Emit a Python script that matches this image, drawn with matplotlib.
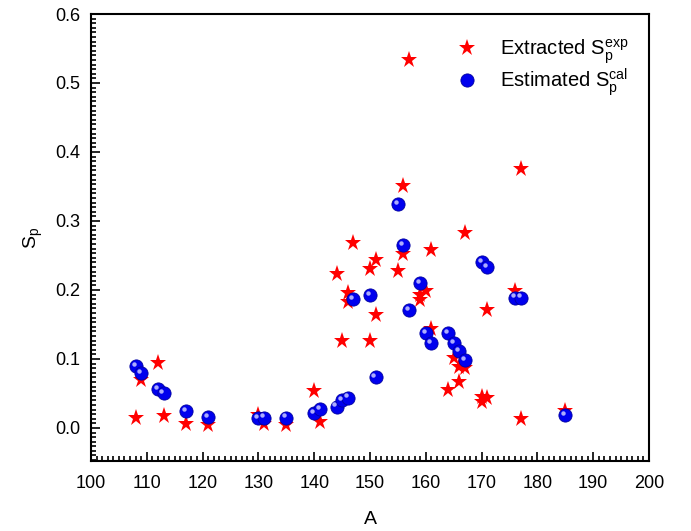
import matplotlib
matplotlib.use('Agg')
import matplotlib.pyplot as plt
from matplotlib import transforms
from matplotlib.ticker import MultipleLocator

plt.rcParams['font.family'] = ['Liberation Sans', 'DejaVu Sans']
plt.rcParams['mathtext.fontset'] = 'custom'
plt.rcParams['mathtext.rm'] = 'Liberation Sans'
plt.rcParams['mathtext.it'] = 'Liberation Sans'

# extracted S_p (stars)
a_exp = [108, 109, 112, 113, 117, 121, 130, 131, 135, 140, 141, 144, 145, 146, 146,
         147, 150, 150, 151, 151, 155, 156, 156, 157, 159, 159, 160, 161, 161, 164,
         165, 166, 166, 167, 167, 170, 170, 171, 171, 176, 177, 177, 185]
sp_exp = [0.014, 0.070, 0.094, 0.017, 0.006, 0.004, 0.019, 0.006, 0.004, 0.053, 0.008,
          0.223, 0.126, 0.196, 0.182, 0.268, 0.230, 0.126, 0.244, 0.164, 0.227, 0.350,
          0.252, 0.534, 0.185, 0.192, 0.199, 0.258, 0.143, 0.055, 0.101, 0.089, 0.066,
          0.087, 0.283, 0.045, 0.037, 0.043, 0.171, 0.199, 0.375, 0.013, 0.024]

# estimated S_p (balls)
a_cal = [108, 109, 112, 113, 117, 121, 130, 131, 135, 140, 141, 144, 145, 146, 147,
         150, 151, 155, 156, 157, 159, 160, 161, 164, 165, 166, 167, 170, 171, 176,
         177, 185]
sp_cal = [0.090, 0.079, 0.056, 0.050, 0.024, 0.016, 0.014, 0.015, 0.015, 0.022, 0.028,
          0.031, 0.040, 0.044, 0.187, 0.193, 0.074, 0.324, 0.265, 0.171, 0.210, 0.137,
          0.123, 0.137, 0.123, 0.111, 0.099, 0.241, 0.233, 0.189, 0.189, 0.018]

fig = plt.figure(figsize=(6.91, 5.31), dpi=100)
ax = fig.add_axes([0.1317, 0.1318, 0.8075, 0.8418])

ax.plot(a_exp, sp_exp, linestyle='none', marker='*', markersize=12.5,
        color='red', markeredgewidth=0, label=r'Extracted $\mathrm{S_p^{exp}}$')
ax.plot(a_cal, sp_cal, linestyle='none', marker='o', markersize=9.5,
        color='#0000ee', markeredgecolor='#0000a0', markeredgewidth=0.6,
        label=r'Estimated $\mathrm{S_p^{cal}}$')
# highlight on the balls
hl = transforms.offset_copy(ax.transData, fig=fig, x=-1.5, y=1.5, units='points')
ax.plot(a_cal, sp_cal, linestyle='none', marker='o', markersize=3.2,
        color='#c0c0ff', markeredgewidth=0, alpha=0.9, transform=hl)

ax.set_xlim(100, 200)
ax.set_ylim(-0.048, 0.6)
ax.xaxis.set_major_locator(MultipleLocator(10))
ax.xaxis.set_minor_locator(MultipleLocator(1))
ax.yaxis.set_major_locator(MultipleLocator(0.1))
ax.yaxis.set_minor_locator(MultipleLocator(0.1 / 15))
ax.yaxis.set_major_formatter(matplotlib.ticker.FormatStrFormatter('%.1f'))

ax.tick_params(which='both', direction='in', top=False, right=False, width=1.2)
ax.tick_params(which='major', length=6.5, labelsize=13)
ax.tick_params(which='minor', length=3.6)
ax.tick_params(axis='y', which='major', pad=8)
ax.tick_params(axis='x', which='major', pad=10)
for s in ax.spines.values():
    s.set_linewidth(1.5)

ax.set_xlabel('A', fontsize=14, labelpad=14)
ax.set_ylabel(r'$\mathrm{S_p}$', fontsize=14, labelpad=7)

ax.legend(loc='upper left', bbox_to_anchor=(439 / 691, 1 - 29 / 531),
          bbox_transform=fig.transFigure, frameon=False, fontsize=14.5,
          handletextpad=0.65, borderaxespad=0, labelspacing=0.0)

fig.savefig('out.png', dpi=100)
